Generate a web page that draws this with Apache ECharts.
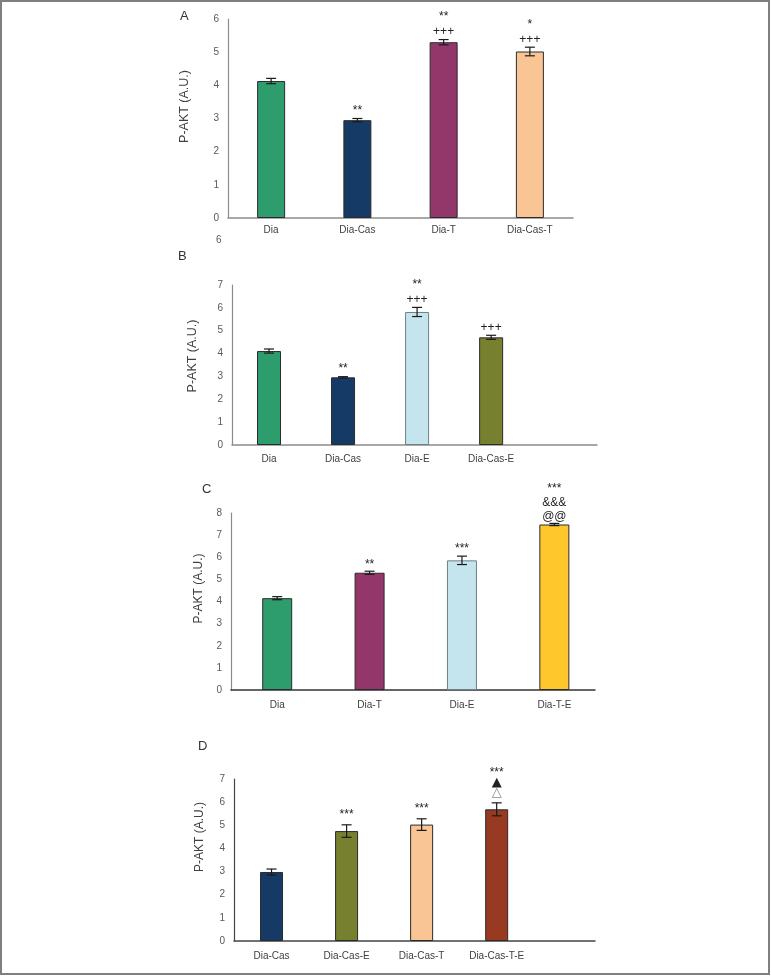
<!DOCTYPE html>
<html><head><meta charset="utf-8">
<script src="https://cdn.jsdelivr.net/npm/echarts@6/dist/echarts.min.js"></script>
<style>html,body{margin:0;padding:0;background:#fff}#c{width:771px;height:976px}</style>
</head><body><div id="c"></div>
<script>
// ---- data ----
const catsA = ['Dia', 'Dia-Cas', 'Dia-T', 'Dia-Cas-T'];
const meanA = [4.13, 2.95, 5.30, 5.02];
const errA  = [0.08, 0.05, 0.08, 0.13];
const notesA = [[], ['**'], ['+++', '**'], ['+++', '*']];
const ticksA = [0, 1, 2, 3, 4, 5, 6];

const catsB = ['Dia', 'Dia-Cas', 'Dia-E', 'Dia-Cas-E'];
const meanB = [4.11, 2.96, 5.82, 4.71];
const errB  = [0.09, 0.03, 0.20, 0.09];
const notesB = [[], ['**'], ['+++', '**'], ['+++']];
const ticksB = [0, 1, 2, 3, 4, 5, 6, 7];

const catsC = ['Dia', 'Dia-T', 'Dia-E', 'Dia-T-E'];
const meanC = [4.15, 5.30, 5.86, 7.48];
const errC  = [0.07, 0.07, 0.19, 0.05];
const notesC = [[], ['**'], ['***'], ['@@', '&&&', '***']];
const ticksC = [0, 1, 2, 3, 4, 5, 6, 7, 8];

const catsD = ['Dia-Cas', 'Dia-Cas-E', 'Dia-Cas-T', 'Dia-Cas-T-E'];
const meanD = [2.98, 4.75, 5.03, 5.69];
const errD  = [0.13, 0.27, 0.25, 0.28];
const notesD = [[], ['***'], ['***'], ['\u25B3', '\u25B2', '***']];
const ticksD = [0, 1, 2, 3, 4, 5, 6, 7];

const yTitle = 'P-AKT (A.U.)';

// ---- styles ----
const FONT = "'Liberation Sans Narrow', 'Liberation Sans', Arial, sans-serif";
const colorMap = {
  'Dia': '#2e9d6d', 'Dia-Cas': '#163a66', 'Dia-T': '#93366a', 'Dia-Cas-T': '#f9c594',
  'Dia-E': '#c4e5ee', 'Dia-Cas-E': '#76802f', 'Dia-T-E': '#fec82c', 'Dia-Cas-T-E': '#983a21'
};
const borderMap = { 'Dia-E': '#6f7f86' };

const panels = [
  { cats: catsA, mean: meanA, err: errA, notes: notesA, ticks: ticksA, xMax: 4.0,
    grid: { left: 228, top: 19, width: 345, height: 199 }, barW: 28, gap1: 8, gap: 15,
    yLine: '#8c8c8c', xLine: '#8c8c8c', nameGap: 37, namePad: 24, nameSize: 12.5, labMargin: 7 },
  { cats: catsB, mean: meanB, err: errB, notes: notesB, ticks: ticksB, xMax: 4.93,
    grid: { left: 232, top: 285, width: 365, height: 160 }, barW: 24, gap1: 8, gap: 15,
    yLine: '#8c8c8c', xLine: '#8c8c8c', nameGap: 33, namePad: 18, nameSize: 12.5, labMargin: 9 },
  { cats: catsC, mean: meanC, err: errC, notes: notesC, ticks: ticksC, xMax: 3.94,
    grid: { left: 231, top: 513, width: 364, height: 177 }, barW: 30, gap1: 7, gap: 14,
    yLine: '#8c8c8c', xLine: '#333333', nameGap: 26, namePad: 26, nameSize: 12, labMargin: 10 },
  { cats: catsD, mean: meanD, err: errD, notes: notesD, ticks: ticksD, xMax: 4.81,
    grid: { left: 234, top: 779, width: 361, height: 162 }, barW: 23, gap1: 10, gap: 10,
    yLine: '#444444', xLine: '#444444', nameGap: 28, namePad: 46, nameSize: 12, labMargin: 10 }
];

const grid = [], xAxis = [], yAxis = [], series = [];
panels.forEach((p, i) => {
  grid.push(Object.assign({ containLabel: false }, p.grid));
  xAxis.push({
    type: 'value', gridIndex: i, min: 0, max: p.xMax, interval: 0.5,
    splitLine: { show: false }, axisTick: { show: false },
    axisLine: { show: true, lineStyle: { color: p.xLine, width: 1.5 } },
    axisLabel: {
      margin: p.labMargin, color: '#404040', fontSize: 10, fontFamily: FONT,
      showMinLabel: true, showMaxLabel: true,
      formatter: v => {
        const j = Math.round(v - 0.5);
        if (Math.abs(v - 0.5 - j) < 1e-6 && j >= 0 && j < p.cats.length) return p.cats[j];
        return '';
      }
    }
  });
  const yMax = p.ticks[p.ticks.length - 1];
  yAxis.push({
    type: 'value', gridIndex: i, min: p.ticks[0], max: yMax, interval: p.ticks[1] - p.ticks[0],
    splitLine: { show: false }, axisTick: { show: false },
    axisLine: { show: true, lineStyle: { color: p.yLine, width: 1.2 } },
    axisLabel: { margin: 9, color: '#595959', fontSize: 10, fontFamily: FONT },
    name: yTitle, nameLocation: 'middle', nameGap: p.nameGap,
    nameTextStyle: { fontSize: p.nameSize, color: '#404040', fontFamily: FONT, padding: [0, 0, 0, p.namePad] }
  });
  series.push({
    type: 'bar', xAxisIndex: i, yAxisIndex: i, barWidth: p.barW,
    data: p.cats.map((c, j) => ({
      value: [j + 0.5, p.mean[j]],
      itemStyle: { color: colorMap[c], borderColor: borderMap[c] || '#2b2b2b', borderWidth: 1 }
    })),
    silent: true, animation: false
  });
  series.push({
    type: 'custom', xAxisIndex: i, yAxisIndex: i, clip: false, z: 5, animation: false, silent: true,
    encode: { x: 0, y: 1 },
    data: p.cats.map((c, j) => [j + 0.5, p.mean[j], p.err[j], j]),
    renderItem: (params, api) => {
      const x = api.value(0), m = api.value(1), e = api.value(2), j = api.value(3);
      const top = api.coord([x, m + e]), bot = api.coord([x, m - e]);
      const cw = 5;
      const st = { stroke: '#1a1a1a', lineWidth: 1.2 };
      const children = [
        { type: 'line', shape: { x1: top[0], y1: top[1], x2: bot[0], y2: bot[1] }, style: st },
        { type: 'line', shape: { x1: top[0] - cw, y1: top[1], x2: top[0] + cw, y2: top[1] }, style: st },
        { type: 'line', shape: { x1: bot[0] - cw, y1: bot[1], x2: bot[0] + cw, y2: bot[1] }, style: st }
      ];
      p.notes[j].forEach((t, k) => {
        const isTri = t === '\u25B3' || t === '\u25B2';
        children.push({
          type: 'text',
          style: {
            text: t, x: top[0], y: top[1] - p.gap1 - k * p.gap,
            align: 'center', verticalAlign: 'middle',
            font: (isTri ? '13px ' : '12px ') + (isTri ? "'DejaVu Sans', sans-serif" : FONT),
            fill: t === '\u25B3' ? '#888888' : '#222222'
          }
        });
      });
      return { type: 'group', children };
    }
  });
});

const letterStyle = { fontSize: 13, fontFamily: FONT, fill: '#333333' };
const graphic = [
  { type: 'rect', shape: { x: 1, y: 1, width: 768, height: 973 }, style: { fill: 'none', stroke: '#7f7f7f', lineWidth: 2 }, silent: true },
  { type: 'text', left: 180, top: 10, style: Object.assign({ text: 'A' }, letterStyle) },
  { type: 'text', left: 178, top: 250, style: Object.assign({ text: 'B' }, letterStyle) },
  { type: 'text', left: 202, top: 483, style: Object.assign({ text: 'C' }, letterStyle) },
  { type: 'text', left: 198, top: 740, style: Object.assign({ text: 'D' }, letterStyle) },
  { type: 'text', left: 216, top: 235, style: { text: '6', fontSize: 10, fontFamily: FONT, fill: '#595959' } }
];

const chart = echarts.init(document.getElementById('c'), null, { renderer: 'canvas' });
chart.setOption({ backgroundColor: '#ffffff', animation: false, grid, xAxis, yAxis, series, graphic });
</script>
</body></html>
